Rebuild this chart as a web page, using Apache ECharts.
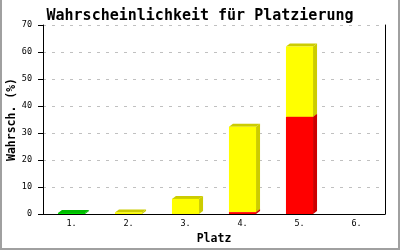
<!DOCTYPE html>
<html><head><meta charset="utf-8">
<script src="https://cdn.jsdelivr.net/npm/echarts@6/dist/echarts.min.js"></script>
<style>html,body{margin:0;padding:0;background:#fff}#c{width:400px;height:250px}</style>
</head><body><div id="c"></div>
<script>
const categories = ['1.', '2.', '3.', '4.', '5.', '6.'];
const redValues = [0, 0, 0, 0.7, 36, 0];
const greenValues = [0.4, 0, 0, 0, 0, 0];
const yellowValues = [0, 0.6, 5.6, 31.6, 26, 0];
const yTicks = [0, 10, 20, 30, 40, 50, 60, 70];

const layers = [
  {name: 'rot', values: redValues, front: '#ff0000', dark: '#cc0000'},
  {name: 'grün', values: greenValues, front: '#00dd00', dark: '#00bb00'},
  {name: 'gelb', values: yellowValues, front: '#ffff00', dark: '#cccc00'}
];
const base = categories.map(() => 0);
const DX = 4, DY = 3;
const series = layers.map(l => {
  const data = l.values.map((v, i) => {
    const b = base[i];
    base[i] += v;
    return [i, b, b + v];
  });
  return {
    type: 'custom', name: l.name, data: data,
    encode: {x: 0, y: [1, 2]},
    renderItem: function (params, api) {
      const b = api.value(1), t = api.value(2);
      if (t - b <= 0) return null;
      const p0 = api.coord([api.value(0), b]);
      const p1 = api.coord([api.value(0), t]);
      const w = api.size([1, 0])[0] * 0.475;
      const x0 = p0[0] - w / 2, x1 = p0[0] + w / 2;
      const yb = p0[1], yt = p1[1];
      return {
        type: 'group', children: [
          {type: 'polygon', shape: {points: [[x1, yt], [x1 + DX, yt - DY], [x1 + DX, yb - DY], [x1, yb]]}, style: {fill: l.dark}},
          {type: 'polygon', shape: {points: [[x0, yt], [x0 + DX, yt - DY], [x1 + DX, yt - DY], [x1, yt]]}, style: {fill: l.dark}},
          {type: 'rect', shape: {x: x0, y: yt, width: w, height: yb - yt}, style: {fill: l.front}}
        ]
      };
    }
  };
});

const chart = echarts.init(document.getElementById('c'), null, {renderer: 'canvas'});
chart.setOption({
  animation: false,
  backgroundColor: '#ffffff',
  title: {
    text: 'Wahrscheinlichkeit für Platzierung', left: 'center', top: 4,
    textStyle: {fontFamily: 'DejaVu Sans Mono', fontWeight: 'bold', fontSize: 15, color: '#000'}
  },
  grid: {left: 43, right: 15, top: 25, bottom: 36, outerBoundsMode: 'none', containLabel: false},
  xAxis: {
    type: 'category', data: categories,
    name: 'Platz', nameLocation: 'middle', nameGap: 19, nameMoveOverlap: false,
    nameTextStyle: {fontFamily: 'DejaVu Sans Mono', fontWeight: 'bold', fontSize: 11.5, color: '#000'},
    axisLine: {lineStyle: {color: '#000', width: 1}},
    axisTick: {show: false},
    axisLabel: {fontFamily: 'DejaVu Sans Mono', fontSize: 8.5, color: '#000', margin: 5},
    splitLine: {show: false}
  },
  yAxis: [{
    type: 'value', min: 0, max: 70, interval: 10,
    name: 'Wahrsch. (%)', nameLocation: 'middle', nameGap: 25, nameMoveOverlap: false,
    nameTextStyle: {fontFamily: 'DejaVu Sans Mono', fontWeight: 'bold', fontSize: 11.5, color: '#000'},
    axisLine: {show: true, lineStyle: {color: '#000', width: 1}},
    axisTick: {show: true, length: 5, lineStyle: {color: '#000'}},
    axisLabel: {fontFamily: 'DejaVu Sans Mono', fontSize: 8.5, color: '#000', margin: 11,
      formatter: v => yTicks.indexOf(v) >= 0 ? String(v) : ''},
    splitLine: {show: true, lineStyle: {color: '#c0c0c0', type: [3, 6], width: 1}}
  }, {
    type: 'value', min: 0, max: 70, interval: 10, position: 'right',
    axisLine: {show: true, lineStyle: {color: '#000', width: 1}},
    axisTick: {show: false}, axisLabel: {show: false}, splitLine: {show: false}
  }],
  graphic: [
    {type: 'rect', shape: {x: 0, y: 0, width: 2, height: 250}, style: {fill: '#a0a0a0'}, silent: true},
    {type: 'rect', shape: {x: 398, y: 0, width: 2, height: 250}, style: {fill: '#a0a0a0'}, silent: true},
    {type: 'rect', shape: {x: 0, y: 248, width: 400, height: 2}, style: {fill: '#a0a0a0'}, silent: true}
  ],
  series: series
});
</script></body></html>
